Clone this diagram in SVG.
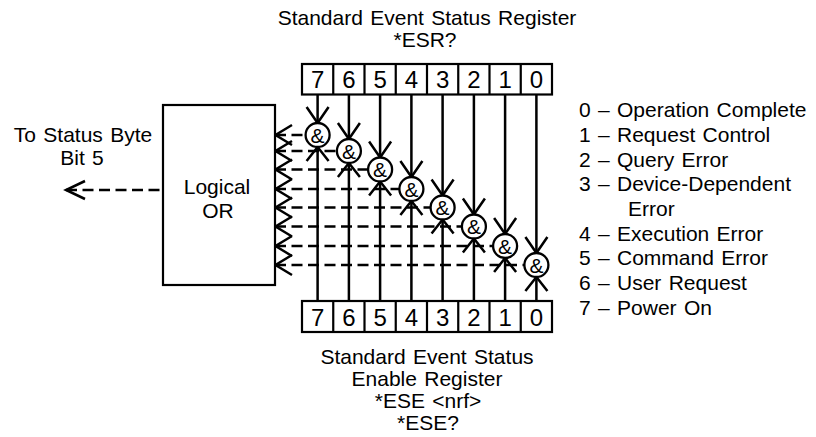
<svg xmlns="http://www.w3.org/2000/svg" width="816" height="437" viewBox="0 0 816 437">
<style>
.ln{stroke:#000;stroke-width:2.5;fill:none}
.bx{stroke:#000;stroke-width:2.2;fill:#fff}
.dash{stroke-dasharray:11 5.5}
.t{font-family:"Liberation Sans",Arial,sans-serif;font-size:21px;fill:#000;word-spacing:1.5px}
.c{text-anchor:middle}
.d{font-family:"Liberation Sans",Arial,sans-serif;font-size:24px;fill:#000;text-anchor:middle}
.g{stroke:#000;stroke-width:2.3;fill:#fff}
.amp{font-family:"Liberation Sans",Arial,sans-serif;font-size:21px;fill:#000;text-anchor:middle}
</style>
<rect width="816" height="437" fill="#fff"/>

<g id="title">
<text class="t c" x="427" y="25">Standard Event Status Register</text>
<text class="t c" x="425" y="46.5">*ESR?</text>
</g>

<g id="connectors">
<!-- output -->
<path class="ln dash" d="M66 190 H163"/>
<polyline class="ln" points="85,181 66,190 85,199"/>
<!-- bit 7 -->
<path class="ln" d="M317.6 94.5 V123 M317.6 301 V147"/>
<polyline class="ln" points="306.6,107 317.6,123 328.6,107"/>
<polyline class="ln" points="306.6,161 317.6,147 328.6,161"/>
<path class="ln dash" d="M275 135 H305.6"/>
<polyline class="ln" points="292,125 275.5,135 292,145"/>
<!-- bit 6 -->
<path class="ln" d="M348.9 94.5 V139 M348.9 301 V163"/>
<polyline class="ln" points="337.9,123 348.9,139 359.9,123"/>
<polyline class="ln" points="337.9,177 348.9,163 359.9,177"/>
<path class="ln dash" d="M275 151 H336.9"/>
<polyline class="ln" points="292,141 275.5,151 292,161"/>
<!-- bit 5 -->
<path class="ln" d="M380.1 94.5 V157.5 M380.1 301 V181.5"/>
<polyline class="ln" points="369.1,141.5 380.1,157.5 391.1,141.5"/>
<polyline class="ln" points="369.1,195.5 380.1,181.5 391.1,195.5"/>
<path class="ln dash" d="M275 169.5 H368.1"/>
<polyline class="ln" points="292,159.5 275.5,169.5 292,179.5"/>
<!-- bit 4 -->
<path class="ln" d="M411.4 94.5 V177 M411.4 301 V201"/>
<polyline class="ln" points="400.4,161 411.4,177 422.4,161"/>
<polyline class="ln" points="400.4,215 411.4,201 422.4,215"/>
<path class="ln dash" d="M275 189 H399.4"/>
<polyline class="ln" points="292,179 275.5,189 292,199"/>
<!-- bit 3 -->
<path class="ln" d="M442.6 94.5 V195.5 M442.6 301 V219.5"/>
<polyline class="ln" points="431.6,179.5 442.6,195.5 453.6,179.5"/>
<polyline class="ln" points="431.6,233.5 442.6,219.5 453.6,233.5"/>
<path class="ln dash" d="M275 207.5 H430.6"/>
<polyline class="ln" points="292,197.5 275.5,207.5 292,217.5"/>
<!-- bit 2 -->
<path class="ln" d="M473.9 94.5 V214.5 M473.9 301 V238.5"/>
<polyline class="ln" points="462.9,198.5 473.9,214.5 484.9,198.5"/>
<polyline class="ln" points="462.9,252.5 473.9,238.5 484.9,252.5"/>
<path class="ln dash" d="M275 226.5 H461.9"/>
<polyline class="ln" points="292,216.5 275.5,226.5 292,236.5"/>
<!-- bit 1 -->
<path class="ln" d="M505.1 94.5 V234 M505.1 301 V258"/>
<polyline class="ln" points="494.1,218 505.1,234 516.1,218"/>
<polyline class="ln" points="494.1,272 505.1,258 516.1,272"/>
<path class="ln dash" d="M275 246 H493.1"/>
<polyline class="ln" points="292,236 275.5,246 292,256"/>
<!-- bit 0 -->
<path class="ln" d="M536.4 94.5 V253 M536.4 301 V277"/>
<polyline class="ln" points="525.4,237 536.4,253 547.4,237"/>
<polyline class="ln" points="525.4,291 536.4,277 547.4,291"/>
<path class="ln dash" d="M275 265 H524.4"/>
<polyline class="ln" points="292,255 275.5,265 292,275"/>
</g>

<g id="esr-register">
<rect class="bx" x="302" y="64" width="250" height="30.5"/>
<path class="ln" style="stroke-width:2.2" d="M333.25 64V94.5M364.5 64V94.5M395.75 64V94.5M427 64V94.5M458.25 64V94.5M489.5 64V94.5M520.75 64V94.5"/>
<text class="d" x="317.6" y="88">7</text><text class="d" x="348.9" y="88">6</text><text class="d" x="380.1" y="88">5</text><text class="d" x="411.4" y="88">4</text><text class="d" x="442.6" y="88">3</text><text class="d" x="473.9" y="88">2</text><text class="d" x="505.1" y="88">1</text><text class="d" x="536.4" y="88">0</text>
</g>

<g id="ese-register">
<rect class="bx" x="302" y="301" width="250" height="31"/>
<path class="ln" style="stroke-width:2.2" d="M333.25 301V332M364.5 301V332M395.75 301V332M427 301V332M458.25 301V332M489.5 301V332M520.75 301V332"/>
<text class="d" x="317.6" y="325.5">7</text><text class="d" x="348.9" y="325.5">6</text><text class="d" x="380.1" y="325.5">5</text><text class="d" x="411.4" y="325.5">4</text><text class="d" x="442.6" y="325.5">3</text><text class="d" x="473.9" y="325.5">2</text><text class="d" x="505.1" y="325.5">1</text><text class="d" x="536.4" y="325.5">0</text>
<text class="t c" x="427" y="364">Standard Event Status</text>
<text class="t c" x="427" y="386">Enable Register</text>
<text class="t c" x="428" y="408">*ESE &lt;nrf&gt;</text>
<text class="t c" x="428" y="430">*ESE?</text>
</g>

<g id="logical-or">
<rect class="bx" x="163" y="105" width="112" height="180"/>
<text class="t c" x="217" y="194">Logical</text>
<text class="t c" x="218" y="218">OR</text>
</g>

<g id="status-byte-label">
<text class="t c" x="83" y="141.5">To Status Byte</text>
<text class="t c" x="82" y="165">Bit 5</text>
</g>

<g id="gate-7"><circle class="g" cx="317.6" cy="135" r="12"/><text class="amp" x="317.6" y="142.5">&amp;</text></g>
<g id="gate-6"><circle class="g" cx="348.9" cy="151" r="12"/><text class="amp" x="348.9" y="158.5">&amp;</text></g>
<g id="gate-5"><circle class="g" cx="380.1" cy="169.5" r="12"/><text class="amp" x="380.1" y="177">&amp;</text></g>
<g id="gate-4"><circle class="g" cx="411.4" cy="189" r="12"/><text class="amp" x="411.4" y="196.5">&amp;</text></g>
<g id="gate-3"><circle class="g" cx="442.6" cy="207.5" r="12"/><text class="amp" x="442.6" y="215">&amp;</text></g>
<g id="gate-2"><circle class="g" cx="473.9" cy="226.5" r="12"/><text class="amp" x="473.9" y="234">&amp;</text></g>
<g id="gate-1"><circle class="g" cx="505.1" cy="246" r="12"/><text class="amp" x="505.1" y="253.5">&amp;</text></g>
<g id="gate-0"><circle class="g" cx="536.4" cy="265" r="12"/><text class="amp" x="536.4" y="272.5">&amp;</text></g>

<g id="legend">
<text class="t" x="579" y="117">0 – Operation Complete</text>
<text class="t" x="579" y="141.7">1 – Request Control</text>
<text class="t" x="579" y="166.5">2 – Query Error</text>
<text class="t" x="579" y="191">3 – Device-Dependent</text>
<text class="t" x="628" y="216">Error</text>
<text class="t" x="579" y="240.5">4 – Execution Error</text>
<text class="t" x="579" y="265.2">5 – Command Error</text>
<text class="t" x="579" y="290">6 – User Request</text>
<text class="t" x="579" y="314.6">7 – Power On</text>
</g>
</svg>
